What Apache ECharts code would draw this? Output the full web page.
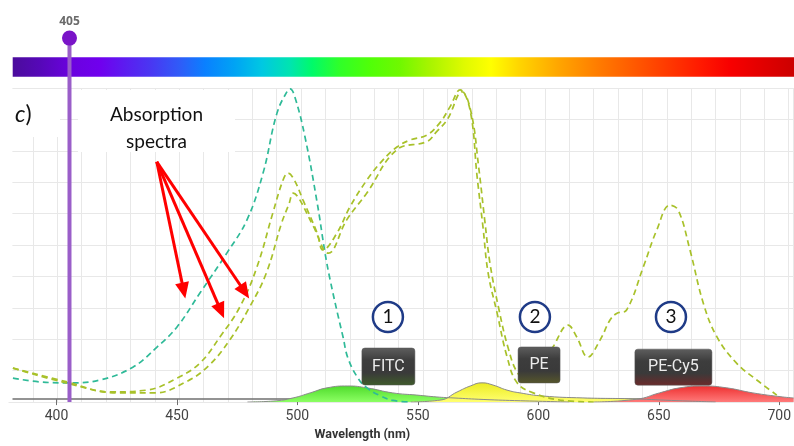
<!DOCTYPE html>
<html><head><meta charset="utf-8">
<script src="https://cdn.jsdelivr.net/npm/echarts@6/dist/echarts.min.js"></script>
<style>html,body{margin:0;padding:0;background:#fff}#c{width:794px;height:446px}</style>
</head><body><div id="c"></div><script>
// ---- data (wavelength nm / relative intensity %) ----
const xTicks = [400, 450, 500, 550, 600, 650, 700];
const laserNm = 405;

const fitcAbsNm  = [381.8,392.9,405.2,417.5,431,440.9,449.1,458.5,469.6,477.8,484.4,490.1,494.6,495.5,497.5,501.6,506.6,509.8,511.9,515,517.2,519.2,523.4,527,532.4,537.7,545];
const fitcAbsVal = [7.6,6.4,6.1,7.0,11.1,17.5,23.9,34.7,47.5,58,72.9,92,99.4,99.7,97,84.4,63.4,47.5,38.9,28,20.7,14,7.5,4.5,2,0.5,0];

const peAbsNm  = [381.8,404,421.6,436.8,449.1,458.5,466.7,474.9,481.9,488.4,492.6,494.6,497,500.8,506.6,509,514.7,520,527,533.6,539.3,544.6,551.6,556.9,561,565.2,569.3,572.2,574.6,576.7,580.4,584.5,588.6,595.2,606.3,620];
const peAbsVal = [10.8,6.4,3.2,3.8,7.6,12.4,20.7,30.3,43,60.2,70.7,72.9,71,64.3,53.8,48.4,53.8,62.1,70.7,77.1,81.2,83.4,85,88.9,93.9,99.4,93,71.7,55.7,41.1,28.3,14.3,6.1,2.9,0.6,0];

const pecy5AbsNm  = [381.8,404,425,440,453,462,470.5,478.7,485.7,492,495,496.8,499,505,511.2,518.7,526.9,539.2,551.5,555.6,560,566,569.8,572.8,575.3,577.5,581,585,589,593,598,603.3,609.5,613,617.6,622.6,626.7,629.4,633.5,640.4,645.9,651.3,654.7,659.5,665,670.5,678.7,686.9,695.1];
const pecy5AbsVal = [10.8,6.0,2.9,2.9,6.5,11.5,19.5,30,41,57,63,66.5,65,56,47.4,58,66.5,80.3,82.9,86.1,90,98.8,92,75,58,44,30,17,9,7.5,11,17.5,24.5,20.8,14.3,19.7,26.1,28.2,29.3,43.1,54.8,62.7,61.1,48.4,31.4,20.8,12.3,7,2.2];

const fitcEmNm  = [478,488.5,496.7,503.7,510.6,519.2,527,537.6,547.5,555.7,562.3,575,590,610];
const fitcEmVal = [0,0.3,1.3,2.9,4.5,5.1,4.5,2.9,2.2,1.6,1.3,0.8,0.4,0];
const peEmNm  = [545,557,564,569.4,574.2,578.7,584.4,589.8,599.2,615.6,636,655,670];
const peEmVal = [0,0.6,3.2,5.1,6.1,5.4,3.8,2.9,1.9,1.3,1.0,0.4,0];
const pecy5EmNm  = [620,637.7,647,655.3,664.8,674.6,685.3,697.6,702];
const pecy5EmVal = [0,0.9,2.9,4.5,5.1,4.5,2.9,1.6,1.3];

const dyeNames = ['FITC', 'PE', 'PE-Cy5'];
const badgeNm  = [535.8, 597.6, 652.7];
const badgeVal = [11.3, 11.8, 11.1];
const circleLabels = ['1', '2', '3'];
const circleNm  = [535.6, 595.9, 651.7];
const circleVal = [27.1, 27.1, 27.1];

// annotation anchor points (data coords)
const arrowFrom = [440.8, 76.5];
const arrowTips = [[452.5, 33], [468.4, 26.7], [478.7, 33]];

// ---- chart ----
const zip = (a, b) => a.map((v, i) => [v, b[i]]);
const chart = echarts.init(document.getElementById('c'));
const labelFont = "Roboto, 'Noto Sans', sans-serif";

function vgrad(stops) {
  return new echarts.graphic.LinearGradient(0, 0, 0, 1, stops.map((c, i) => ({offset: i / (stops.length - 1), color: c})));
}
function emission(data, stops) {
  return {type: 'line', data, smooth: 0.5, symbol: 'none', z: 2,
    lineStyle: {color: '#8a8a8a', width: 1}, areaStyle: {color: vgrad(stops), opacity: 1}};
}
function absorption(data, color) {
  return {type: 'line', data, smooth: 0.4, symbol: 'none', z: 3,
    lineStyle: {color, width: 1.7, type: [6, 4]}};
}
function roundRectPath(w, h, r) {
  return 'path://M' + r + ',0H' + (w - r) + 'A' + r + ',' + r + ' 0 0 1 ' + w + ',' + r +
    'V' + (h - r) + 'A' + r + ',' + r + ' 0 0 1 ' + (w - r) + ',' + h +
    'H' + r + 'A' + r + ',' + r + ' 0 0 1 0,' + (h - r) +
    'V' + r + 'A' + r + ',' + r + ' 0 0 1 ' + r + ',0Z';
}
const badgeTints = ['#3f5b2b', '#56562b', '#6b2b2b'];
const badgeSizes = [[53, 37], [42, 36], [77, 36]];

const option = {
  animation: false,
  grid: [
    {left: 8.54, right: 0.4, top: 88, bottom: 44},
    {left: 12.7, right: 0.4, top: 88, bottom: 44}
  ],
  xAxis: [
    {gridIndex: 0, type: 'value', min: 380, max: 702, interval: 10,
      axisLine: {show: false}, axisTick: {show: false}, axisLabel: {show: false},
      splitLine: {show: true, lineStyle: {color: '#e8e8e8', width: 1}}},
    {gridIndex: 1, type: 'value', min: 381.8, max: 702,
      axisLine: {show: true, lineStyle: {color: '#707070', width: 1.5}},
      axisTick: {show: true, customValues: xTicks, length: 6, lineStyle: {color: '#707070', width: 1}},
      axisLabel: {customValues: xTicks, margin: 10, fontFamily: labelFont, fontSize: 14, color: '#444'},
      splitLine: {show: false},
      name: 'Wavelength (nm)', nameLocation: 'middle', nameGap: 28,
      nameTextStyle: {fontWeight: 'bold', fontSize: 12.5, color: '#333', fontFamily: labelFont, padding: [0, 72, 0, 0]}}
  ],
  yAxis: [
    {gridIndex: 0, type: 'value', min: 0, max: 100, interval: 10,
      axisLine: {show: false}, axisTick: {show: false}, axisLabel: {show: false},
      splitLine: {show: true, lineStyle: {color: '#e8e8e8', width: 1}}},
    {gridIndex: 1, type: 'value', min: 0, max: 100, show: false}
  ],
  series: [
    emission(zip(fitcEmNm, fitcEmVal), ['#4fdc2c', '#8cff63']),
    emission(zip(peEmNm, peEmVal), ['#ecec22', '#ffff70']),
    emission(zip(pecy5EmNm, pecy5EmVal), ['#ee3030', '#ff7a7a']),
    absorption(zip(fitcAbsNm, fitcAbsVal), '#2fba98'),
    absorption(zip(peAbsNm, peAbsVal), '#a8c12a'),
    absorption(zip(pecy5AbsNm, pecy5AbsVal), '#a8c12a'),
    {type: 'line', clip: false, z: 4, showSymbol: true,
      lineStyle: {color: '#9a5ec9', width: 4},
      data: [
        {value: [laserNm, 0], symbol: 'none'},
        {value: [laserNm, 115.9], symbol: 'circle', symbolSize: 15,
          itemStyle: {color: '#7a14c8', borderWidth: 0},
          label: {show: true, position: 'top', distance: 3, formatter: String(laserNm),
            fontWeight: 'bold', fontSize: 12, color: '#6b6b6b', fontFamily: 'Open Sans, sans-serif'}}
      ]},
    {type: 'scatter', z: 10,
      data: dyeNames.map((n, i) => ({
        name: n, value: [badgeNm[i], badgeVal[i]],
        symbol: roundRectPath(badgeSizes[i][0], badgeSizes[i][1], 3), symbolSize: badgeSizes[i],
        itemStyle: {color: vgrad(['#5e5e5e', '#3d3d3d', '#3a3a3a', badgeTints[i]]), borderColor: '#555', borderWidth: 0.5, opacity: 1}
      })),
      label: {show: true, position: 'inside', formatter: p => p.name, color: '#ececec', fontSize: 16, fontFamily: labelFont}},
    {type: 'scatter', z: 10,
      data: circleLabels.map((n, i) => ({name: n, value: [circleNm[i], circleVal[i]]})),
      symbol: 'circle', symbolSize: 30,
      itemStyle: {color: '#ffffff', borderColor: '#1f3b87', borderWidth: 2.5, opacity: 1},
      label: {show: true, position: 'inside', formatter: p => p.name, color: '#111', fontSize: 19, fontFamily: 'Lato, sans-serif'}}
  ]
};
chart.setOption(option);

// ---- annotations ----
const barStops = [[12.7,'#4b0c9c'],[40,'#5608b8'],[70,'#6a02de'],[100,'#7000ee'],[125,'#5c1cf0'],[150,'#4a36f2'],[180,'#2f5cf8'],[205,'#0a80ff'],[235,'#00a4f4'],[262,'#00c8e2'],[290,'#00e4b0'],[312,'#00fa6a'],[340,'#30ff28'],[370,'#50ff08'],[400,'#70f800'],[430,'#a8f400'],[465,'#e0fa00'],[491,'#ffff00'],[520,'#ffd400'],[560,'#ffa400'],[600,'#ff7a00'],[650,'#ff4a00'],[700,'#ff1a00'],[730,'#f80000'],[794,'#cc0000']];
const barGrad = new echarts.graphic.LinearGradient(0, 0, 1, 0,
  barStops.map(s => ({offset: (s[0] - 12.7) / 781.3, color: s[1]})));

const toPx = p => chart.convertToPixel({gridIndex: 0}, p);
const from = toPx(arrowFrom);
const arrows = [];
arrowTips.forEach(t => {
  const tip = toPx(t);
  const dx = tip[0] - from[0], dy = tip[1] - from[1];
  const L = Math.hypot(dx, dy), ux = dx / L, uy = dy / L;
  const hl = 16, hw = 7;
  const bx = tip[0] - ux * hl, by = tip[1] - uy * hl;
  arrows.push({type: 'line', z: 20, shape: {x1: from[0], y1: from[1], x2: bx + ux * 2, y2: by + uy * 2},
    style: {stroke: '#ff0000', lineWidth: 3}});
  arrows.push({type: 'polygon', z: 20, shape: {points: [tip, [bx - uy * hw, by + ux * hw], [bx + uy * hw, by - ux * hw]]},
    style: {fill: '#ff0000'}});
});

chart.setOption({graphic: [
  {type: 'rect', z: 1, shape: {x: 12.7, y: 57.3, width: 781.3, height: 19.4}, style: {fill: barGrad}},
  {type: 'rect', z: 1, shape: {x: 0, y: 86, width: 12.4, height: 316}, style: {fill: '#ffffff'}},
  {type: 'rect', z: 1, shape: {x: 78, y: 90, width: 157, height: 62}, style: {fill: '#ffffff'}},
  {type: 'rect', z: 1, shape: {x: 12, y: 89, width: 48, height: 48}, style: {fill: '#ffffff'}},
  {type: 'text', z: 20, x: 156.5, y: 128, style: {text: 'Absorption\nspectra', fill: '#111', font: '19px Lato, sans-serif', align: 'center', verticalAlign: 'middle', lineHeight: 27}},
  {type: 'text', z: 20, x: 15, y: 115, style: {text: '{i|c})', rich: {i: {fontStyle: 'italic', font: 'italic 23px Lato, sans-serif', fill: '#111'}}, font: '23px Lato, sans-serif', fill: '#111', verticalAlign: 'middle'}},
  ...arrows
]});
</script></body></html>
